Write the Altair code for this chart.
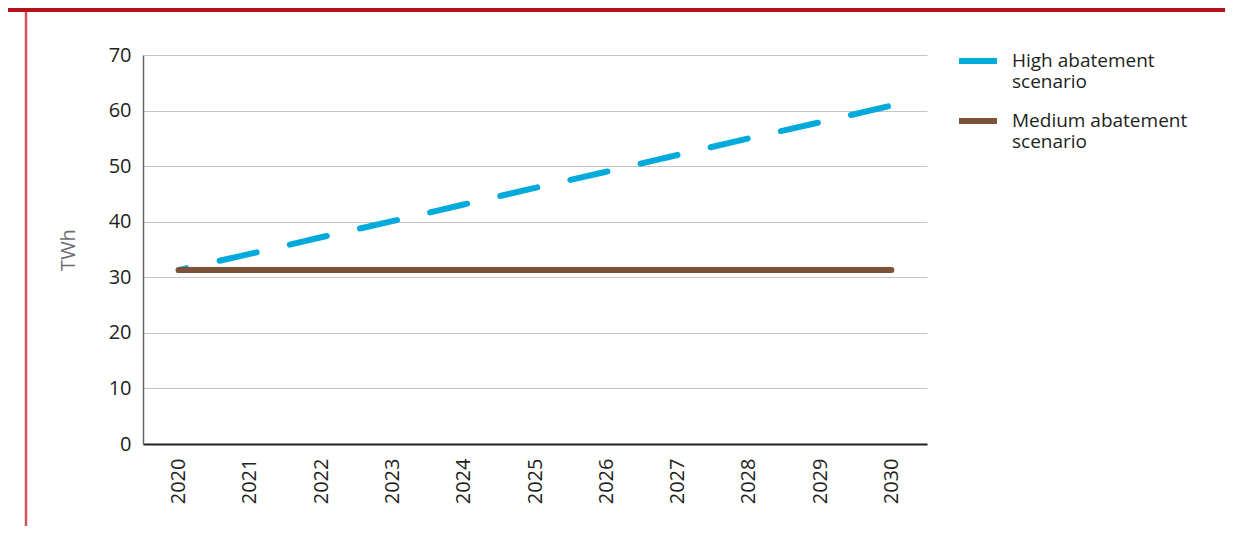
import altair as alt
import pandas as pd

years = ["2020", "2021", "2022", "2023", "2024", "2025", "2026", "2027", "2028", "2029", "2030"]
high = [31.3, 34.2, 37.2, 40.1, 43.1, 46.1, 49.0, 52.0, 55.0, 57.9, 60.9]
medium = [31.3, 31.3, 31.3, 31.3, 31.3, 31.3, 31.3, 31.3, 31.3, 31.3, 31.3]
series = ["High abatement scenario", "Medium abatement scenario"]
colors = ["#00AADB", "#7D5239"]
y_ticks = [0, 10, 20, 30, 40, 50, 60, 70]

df = pd.DataFrame({
    "year": years * 2,
    "value": high + medium,
    "series": [series[0]] * len(years) + [series[1]] * len(years),
})

FONT = "Open Sans"
TEXT = "#231F20"

x = alt.X("year:O", title=None, sort=years,
          axis=alt.Axis(labelAngle=-90, labelFontSize=20, labelColor=TEXT, labelFont=FONT,
                        labelPadding=14, ticks=False, domainColor="#231F20", domainWidth=2,
                        labelBaseline="middle", labelAlign="right"))
y = alt.Y("value:Q", title="TWh", scale=alt.Scale(domain=[0, 70], nice=False),
          axis=alt.Axis(values=y_ticks, labelFontSize=20, labelColor=TEXT, labelFont=FONT,
                        ticks=False, labelPadding=12, domainColor="#666666", domainWidth=1.5,
                        gridColor="#C4C4C4", gridWidth=1.2, titleFont=FONT, titleFontSize=20,
                        titleFontWeight="normal", titleColor="#6D6E71", titlePadding=30))
color = alt.Color("series:N", sort=series, title=None,
                  scale=alt.Scale(domain=series, range=colors),
                  legend=alt.Legend(orient="none", legendX=813, legendY=-16,
                                    symbolType="stroke", symbolSize=1444, symbolStrokeWidth=6,
                                    symbolDash=[1, 0], labelFont=FONT, labelFontSize=19,
                                    labelColor=TEXT, labelLimit=300, rowPadding=7,
                                    labelBaseline="middle", labelOffset=12,
                                    labelExpr="split(replace(datum.label, ' scenario', '|scenario'), '|')"))

base = alt.Chart(df)
high_line = base.transform_filter(alt.datum.series == series[0]).mark_line(
    strokeWidth=6, strokeCap="round", strokeDash=[38, 34], strokeDashOffset=30
).encode(x=x, y=y, color=color)
med_line = base.transform_filter(alt.datum.series == series[1]).mark_line(
    strokeWidth=6, strokeCap="round"
).encode(x=x, y=y, color=color)

deco = pd.DataFrame({"k": [0]})
top_band = alt.Chart(deco).mark_rect(color="#B5121B", clip=False).encode(
    x=alt.value(-150), x2=alt.value(1100), y=alt.value(-60), y2=alt.value(-43))
left_line = alt.Chart(deco).mark_rule(color="#D2535C", strokeWidth=2.5, clip=False).encode(
    x=alt.value(-117), y=alt.value(-43), y2=alt.value(500))

chart = alt.layer(top_band, left_line, high_line, med_line).properties(
    width=784, height=389, background="white",
    autosize=alt.AutoSizeParams(type="none"),
    padding={"left": 135, "top": 47, "right": 298, "bottom": 82},
).configure_view(stroke=None)

chart.save("out.html", embed_options={"renderer": "svg", "actions": False})
